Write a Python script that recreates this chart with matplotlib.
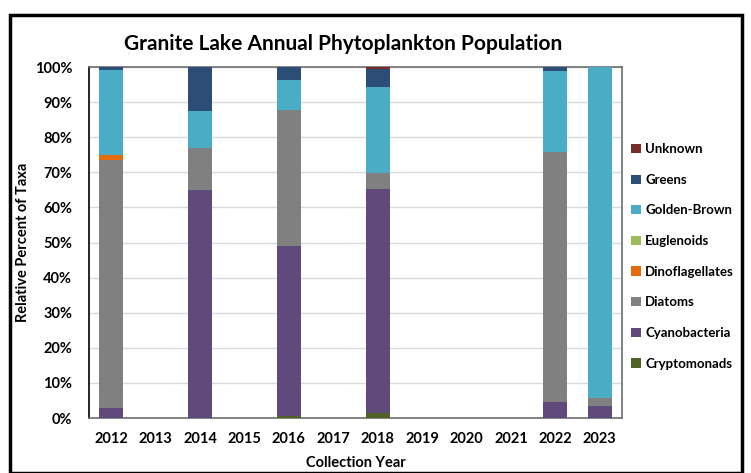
import matplotlib
matplotlib.use("Agg")
import matplotlib.pyplot as plt
import numpy as np
from matplotlib.patches import Rectangle

years = ["2012", "2013", "2014", "2015", "2016", "2017", "2018", "2019", "2020", "2021", "2022", "2023"]
# percentages per taxon (stack order bottom -> top)
cryptomonads    = [0, 0, 0, 0, 0.6, 0, 1.4, 0, 0, 0, 0, 0]
cyanobacteria   = [2.8, 0, 65.0, 0, 48.5, 0, 63.8, 0, 0, 0, 4.5, 3.4]
diatoms         = [70.8, 0, 12.0, 0, 38.6, 0, 4.7, 0, 0, 0, 71.4, 2.2]
dinoflagellates = [1.3, 0, 0, 0, 0, 0, 0, 0, 0, 0, 0, 0]
euglenoids      = [0, 0, 0, 0, 0, 0, 0, 0, 0, 0, 0, 0]
golden_brown    = [24.2, 0, 10.5, 0, 8.5, 0, 24.3, 0, 0, 0, 23.1, 94.4]
greens          = [0.9, 0, 12.5, 0, 3.8, 0, 5.3, 0, 0, 0, 1.0, 0]
unknown         = [0, 0, 0, 0, 0, 0, 0.5, 0, 0, 0, 0, 0]

series = [
    ("Cryptomonads", cryptomonads, "#4F6228"),
    ("Cyanobacteria", cyanobacteria, "#604A7B"),
    ("Diatoms", diatoms, "#808080"),
    ("Dinoflagellates", dinoflagellates, "#E46C0A"),
    ("Euglenoids", euglenoids, "#9BBB59"),
    ("Golden-Brown", golden_brown, "#4BACC6"),
    ("Greens", greens, "#2C4D75"),
    ("Unknown", unknown, "#772C2A"),
]

plt.rcParams['font.family'] = ['Lato', 'DejaVu Sans']

fig = plt.figure(figsize=(7.51, 4.73), dpi=100)
W, H = 751, 473
ax = fig.add_axes([89 / W, 1 - 418 / H, (622 - 89) / W, (418 - 67) / H])

x = np.arange(len(years))
bottom = np.zeros(len(years))
handles = []
for name, vals, col in series:
    v = np.array(vals, dtype=float)
    b = ax.bar(x, v, bottom=bottom, width=0.54, color=col, label=name, zorder=3)
    handles.append(b)
    bottom += v

ax.set_xlim(-0.5, len(years) - 0.5)
ax.set_ylim(0, 100)
ax.set_yticks(np.arange(0, 101, 10))
ax.set_yticklabels([f"{t}%" for t in range(0, 101, 10)])
ax.set_xticks(x)
ax.set_xticklabels(years)
ax.tick_params(axis='both', length=0, labelsize=10.5)
ax.tick_params(axis='y', pad=12)
ax.tick_params(axis='x', pad=10)
for lbl in ax.get_xticklabels() + ax.get_yticklabels():
    lbl.set_fontweight('bold')
ax.grid(axis='y', color='#D9D9D9', linewidth=1, zorder=0)
ax.set_axisbelow(True)
for s in ['top', 'right', 'bottom']:
    ax.spines[s].set_color('#6E6E6E')
    ax.spines[s].set_linewidth(1.2)
ax.spines['left'].set_color('#000000')
ax.spines['left'].set_linewidth(1.2)

ax.set_xlabel("Collection Year", fontsize=10.5, fontweight='bold')
ax.set_ylabel("Relative Percent of Taxa", fontsize=10.5, fontweight='bold')
ax.xaxis.set_label_coords(0.5, (418 - 463) / 351)
ax.xaxis.label.set_va('center')
ax.yaxis.set_label_coords((23 - 89) / 533, 0.5)
ax.yaxis.label.set_va('center')

fig.text(343 / W, 1 - 44 / H, "Granite Lake Annual Phytoplankton Population",
         ha='center', va='center', fontsize=15, fontweight='bold')

leg = fig.legend(handles[::-1], [s[0] for s in series][::-1], loc='upper left',
                 bbox_to_anchor=(626 / W, 1 - 138 / H), frameon=False,
                 fontsize=9.5, handlelength=0.7, handleheight=0.7,
                 handletextpad=0.35, labelspacing=1.41, borderaxespad=0)
for t in leg.get_texts():
    t.set_fontweight('bold')

fig.patches.append(Rectangle((10 / W, 1 - 472.5 / H), (742 - 10) / W, (472.5 - 15) / H,
                             transform=fig.transFigure, fill=False,
                             edgecolor='black', linewidth=2.5))

fig.savefig("out.png", dpi=100)
